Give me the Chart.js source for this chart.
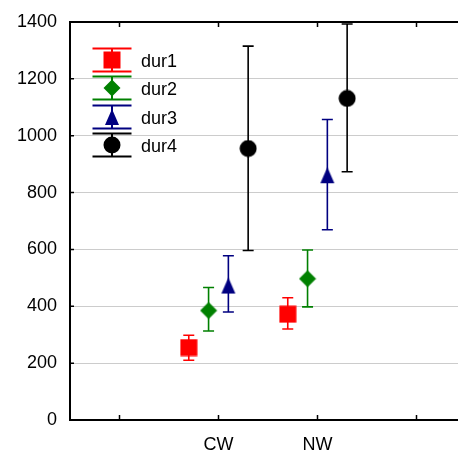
<!DOCTYPE html>
<html><head><meta charset="utf-8">
<script src="https://cdn.jsdelivr.net/npm/chart.js@4/dist/chart.umd.min.js"></script>
<style>html,body{margin:0;padding:0;background:#fff}#wrap{width:458px;height:453px}</style>
</head><body><div id="wrap"><canvas id="c" width="458" height="453"></canvas></div>
<script>
// ---- data ----
const categories = ['CW', 'NW'];
const seriesNames = ['dur1', 'dur2', 'dur3', 'dur4'];
const dur1Mean = [255, 372];
const dur1Low  = [210, 320];
const dur1High = [298, 430];
const dur2Mean = [385, 497];
const dur2Low  = [313, 398];
const dur2High = [466, 598];
const dur3Mean = [473, 861];
const dur3Low  = [380, 669];
const dur3High = [578, 1057];
const dur4Mean = [955, 1131];
const dur4Low  = [596, 873];
const dur4High = [1315, 1393];
const yTicks = [0, 200, 400, 600, 800, 1000, 1200, 1400];
const xTickPositions = [1, 2, 3, 4];

// ---- styles ----
const colors = ['#ff0000', '#008000', '#000080', '#000000'];
const shapes = ['square', 'diamond', 'triangle', 'circle'];
const seriesOffsets = [-0.3, -0.1, 0.1, 0.3];
const FONT = "'Liberation Sans', Arial, sans-serif";

function makeMarker(shape, color) {
  const s = 18;
  const cv = document.createElement('canvas');
  cv.width = s; cv.height = s;
  const g = cv.getContext('2d');
  g.fillStyle = color;
  const c = s / 2;
  g.beginPath();
  if (shape === 'square') {
    g.rect(c - 8.5, c - 8.5, 17, 17);
  } else if (shape === 'diamond') {
    g.moveTo(c, c - 8.5); g.lineTo(c + 8.5, c); g.lineTo(c, c + 8.5); g.lineTo(c - 8.5, c);
  } else if (shape === 'triangle') {
    g.moveTo(c, c - 8); g.lineTo(c + 7, c + 8); g.lineTo(c - 7, c + 8);
  } else {
    g.arc(c, c, 8.5, 0, Math.PI * 2);
  }
  g.closePath();
  g.fill();
  return cv;
}
const markers = shapes.map((s, i) => makeMarker(s, colors[i]));

const means = [dur1Mean, dur2Mean, dur3Mean, dur4Mean];
const lows = [dur1Low, dur2Low, dur3Low, dur4Low];
const highs = [dur1High, dur2High, dur3High, dur4High];

const datasets = seriesNames.map((name, si) => ({
  label: name,
  data: categories.map((c, ci) => ({ x: ci + 2 + seriesOffsets[si], y: means[si][ci], lo: lows[si][ci], hi: highs[si][ci] })),
  pointStyle: markers[si],
  pointRadius: 9,
  backgroundColor: colors[si],
  borderColor: colors[si],
  showLine: false
}));

const decor = {
  id: 'decor',
  beforeDatasetsDraw(chart) {
    const ctx = chart.ctx, xs = chart.scales.x, ys = chart.scales.y;
    ctx.save();
    chart.data.datasets.forEach((ds, si) => {
      ctx.strokeStyle = colors[si];
      ctx.lineWidth = 1.6;
      ds.data.forEach(p => {
        const px = xs.getPixelForValue(p.x);
        const yl = ys.getPixelForValue(p.lo), yh = ys.getPixelForValue(p.hi);
        ctx.beginPath();
        ctx.moveTo(px, yl); ctx.lineTo(px, yh);
        ctx.moveTo(px - 5.5, yl); ctx.lineTo(px + 5.5, yl);
        ctx.moveTo(px - 5.5, yh); ctx.lineTo(px + 5.5, yh);
        ctx.stroke();
      });
    });
    ctx.restore();
  },
  afterDraw(chart) {
    const ctx = chart.ctx, a = chart.chartArea, xs = chart.scales.x, ys = chart.scales.y;
    ctx.save();
    ctx.strokeStyle = '#000';
    ctx.lineWidth = 2;
    ctx.beginPath();
    ctx.moveTo(a.left - 1, a.top); ctx.lineTo(a.right, a.top);
    ctx.stroke();
    ctx.lineWidth = 1.5;
    ctx.beginPath();
    xTickPositions.forEach(v => {
      const px = Math.round(xs.getPixelForValue(v)) + 0.5;
      ctx.moveTo(px, a.bottom); ctx.lineTo(px, a.bottom - 5);
      ctx.moveTo(px, a.top); ctx.lineTo(px, a.top + 5);
    });
    yTicks.forEach(v => {
      const py = ys.getPixelForValue(v);
      ctx.moveTo(a.left, py); ctx.lineTo(a.left + 4, py);
    });
    ctx.stroke();
    // legend
    const lx = 112, rows = [60, 88, 117, 145];
    seriesNames.forEach((name, si) => {
      const y = rows[si];
      ctx.strokeStyle = colors[si];
      ctx.lineWidth = 2;
      ctx.beginPath();
      ctx.moveTo(lx, y - 11.5); ctx.lineTo(lx, y + 11.5);
      ctx.moveTo(lx - 19.5, y - 11.5); ctx.lineTo(lx + 19.5, y - 11.5);
      ctx.moveTo(lx - 19.5, y + 11.5); ctx.lineTo(lx + 19.5, y + 11.5);
      ctx.stroke();
      ctx.drawImage(markers[si], lx - 9, y - 9);
      ctx.fillStyle = '#000';
      ctx.font = '18px ' + FONT;
      ctx.textAlign = 'left';
      ctx.textBaseline = 'alphabetic';
      ctx.fillText(name, 141, y + 6.5);
    });
    ctx.restore();
  }
};

new Chart(document.getElementById('c'), {
  type: 'scatter',
  data: { datasets },
  options: {
    responsive: false,
    animation: false,
    devicePixelRatio: 1,
    layout: { autoPadding: false, padding: { top: 22, right: 0, left: 0, bottom: 0 } },
    plugins: { legend: { display: false }, tooltip: { enabled: false } },
    scales: {
      x: {
        type: 'linear',
        min: 0.5,
        max: 4.42,
        afterFit(s) { s.height = 33; s.paddingLeft = 0; s.paddingRight = 0; },
        afterBuildTicks(s) { s.ticks = xTickPositions.map(v => ({ value: v })); },
        grid: { display: false, drawTicks: false },
        border: { display: true, color: '#000', width: 2 },
        ticks: {
          padding: 14,
          color: '#000',
          font: { family: FONT, size: 18 },
          callback(v) { const i = v - 2; return (i >= 0 && i < categories.length) ? categories[i] : ''; }
        }
      },
      y: {
        min: 0,
        max: 1400,
        afterFit(s) { s.width = 70; s.paddingTop = 0; s.paddingBottom = 0; },
        afterBuildTicks(s) { s.ticks = yTicks.map(v => ({ value: v })); },
        grid: { color: '#cccccc', lineWidth: 1, drawTicks: false },
        border: { display: true, color: '#000', width: 2 },
        ticks: {
          padding: 13,
          color: '#000',
          font: { family: FONT, size: 18 },
          callback(v) { return String(v); }
        }
      }
    }
  },
  plugins: [decor]
});
</script>
</body></html>
